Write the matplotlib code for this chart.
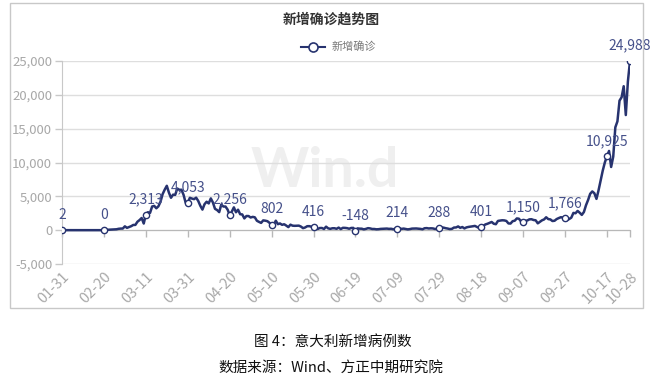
import numpy as np
import matplotlib
matplotlib.use("Agg")
import matplotlib.pyplot as plt
from matplotlib.patches import Rectangle
from matplotlib.ticker import FuncFormatter

plt.rcParams['font.family'] = ['Noto Sans CJK SC', 'DejaVu Sans']

# ---- data (daily new confirmed cases, 01-31 .. 10-28) ----
jan = [2]
feb = [0, 0, 0, 0, 0, 0, 1, 0, 0, 0, 0, 0, 0, 0, 0, 0, 0, 0, 0, 0,
       17, 62, 76, 74, 93, 131, 202, 233, 240]
mar = [566, 342, 466, 587, 769, 778, 1247, 1492, 1797, 977,
       2313, 2651, 2547, 3497, 3590, 3233, 3526, 4207, 5322, 5986,
       6557, 5560, 4789, 5249, 5210, 6153, 5959, 5974, 5217, 4050, 4053]
apr = [4782, 4668, 4585, 4805, 4316, 3599, 3039, 3836, 4204, 3951,
       4694, 4092, 3153, 2972, 2667, 3786, 3493, 3491, 3047, 2256,
       2729, 3370, 2646, 3021, 2357, 2324, 1739, 2091, 2086, 1872]
may = [1965, 1900, 1389, 1221, 1075, 1444, 1401, 1327, 1083, 802,
       744, 1402, 888, 992, 789, 875, 675, 451, 813, 665,
       642, 652, 669, 531, 300, 397, 584, 593, 516, 416, 355]
jun = [178, 318, 321, 177, 518, 270, 197, 280, 283, 202,
       379, 163, 346, 338, 301, 210, 328, 333, -148, 262,
       224, 218, 122, 190, 296, 259, 175, 174, 126, 142]
jul = [187, 201, 223, 235, 192, 208, 138, 193, 214, 276,
       188, 234, 169, 114, 162, 230, 233, 249, 219, 190,
       129, 282, 306, 252, 275, 255, 170, 212, 288, 386, 379]
aug = [295, 239, 159, 190, 384, 402, 552, 347, 463, 259,
       412, 481, 523, 574, 629, 479, 320, 401, 642, 845,
       947, 1071, 1210, 953, 878, 1367, 1411, 1462, 1444, 1365, 996]
sep = [978, 1326, 1397, 1733, 1694, 1297, 1150, 1370, 1434, 1597,
       1616, 1501, 1458, 1008, 1229, 1452, 1585, 1907, 1638, 1587,
       1350, 1392, 1640, 1786, 1912, 1869, 1766, 1494, 1648, 1851]
oct_ = [2548, 2499, 2844, 2578, 2257, 2677, 3678, 4458, 5372, 5724,
        5456, 4619, 5901, 7332, 8804, 10010, 10925, 11705, 9338, 10874,
        15199, 16079, 19143, 19644, 21273, 17012, 21994, 24988]

values = np.array(jan + feb + mar + apr + may + jun + jul + aug + sep + oct_)
tick_labels = ['01-31', '02-20', '03-11', '03-31', '04-20', '05-10', '05-30',
               '06-19', '07-09', '07-29', '08-18', '09-07', '09-27', '10-17', '10-28']
tick_days = [0, 20, 40, 60, 80, 100, 120, 140, 160, 180, 200, 220, 240, 260, 271]
y_ticks = [-5000, 0, 5000, 10000, 15000, 20000, 25000]

series_name = '新增确诊'
title = '新增确诊趋势图'
caption1 = '图 4：意大利新增病例数'
caption2 = '数据来源：Wind、方正中期研究院'
watermark = 'Win.d'

# ---- figure ----
W, H = 658, 386
fig = plt.figure(figsize=(W / 100, H / 100), dpi=100)
fig.patch.set_facecolor('white')

# outer frame
fig.patches.append(Rectangle((10 / W, 1 - 308 / H), (643 - 10) / W, (308 - 3) / H,
                             transform=fig.transFigure, fill=False,
                             edgecolor='#c8c8c8', linewidth=1))

ax = fig.add_axes([62 / W, 1 - 264 / H, (630 - 62) / W, (264 - 61) / H])
x = np.arange(len(values))
line_color = '#27336f'
label_color = '#45508a'
axis_gray = '#a8a8a8'

ax.set_xlim(0, len(values) - 1)
ax.set_ylim(-5000, 25000)

# watermark
ax.text(0.463, 0.46, watermark, transform=ax.transAxes, fontsize=40, fontweight='bold',
        color='#efefef', ha='center', va='center', zorder=0,
        family=['Lato', 'DejaVu Sans'])

ax.set_yticks(y_ticks)
ax.yaxis.set_major_formatter(FuncFormatter(lambda v, p: f'{int(v):,}'))
ax.grid(axis='y', color='#dedede', linewidth=1)
ax.set_axisbelow(True)
ax.tick_params(axis='y', colors='#c8c8c8', labelcolor=axis_gray, labelsize=9.5,
               length=5, width=1, pad=2)

for s in ['top', 'right']:
    ax.spines[s].set_visible(False)
ax.spines['left'].set_color('#c8c8c8')
ax.spines['bottom'].set_position(('data', 0))
ax.spines['bottom'].set_color('#b8b8b8')
ax.set_xticks(tick_days)
ax.tick_params(axis='x', colors='#b8b8b8', length=5, width=1, labelbottom=False)

sec = ax.secondary_xaxis(0)
sec.set_xticks(tick_days)
sec.set_xticklabels(tick_labels, rotation=45, ha='right', rotation_mode='anchor')
sec.tick_params(length=0, labelcolor=axis_gray, labelsize=10.5, pad=4)
sec.spines['bottom'].set_visible(False)

ax.plot(x, values, color=line_color, linewidth=1.8, zorder=3, label=series_name)
ax.plot(x[tick_days], values[tick_days], linestyle='none', marker='o', markersize=4.5,
        markerfacecolor='white', markeredgecolor=line_color, markeredgewidth=1, zorder=4)
for d in tick_days:
    v = values[d]
    ax.annotate(f'{v:,}', (d, v), xytext=(0, 6), textcoords='offset points',
                ha='center', va='bottom', color=label_color, fontsize=10, zorder=5)

# title and legend
fig.text(331 / W, 1 - 20 / H, title, ha='center', va='center', fontsize=10,
         fontweight='bold', color='#333333')
fig.lines.append(plt.Line2D([301 / W, 325 / W], [1 - 47 / H, 1 - 47 / H],
                            transform=fig.transFigure, color=line_color, linewidth=1.5))
fig.lines.append(plt.Line2D([313 / W], [1 - 47 / H], transform=fig.transFigure,
                            linestyle='none', marker='o', markersize=6.5,
                            markerfacecolor='white', markeredgecolor=line_color,
                            markeredgewidth=1.2))
fig.text(332 / W, 1 - 47 / H, series_name, ha='left', va='center', fontsize=8,
         color='#777777')

# captions
fig.text(333 / W, 1 - 342 / H, caption1, ha='center', va='center', fontsize=10.5,
         color='#111111')
fig.text(331 / W, 1 - 368 / H, caption2, ha='center', va='center', fontsize=10.5,
         color='#111111')

fig.savefig('out.png', dpi=100, facecolor='white')
